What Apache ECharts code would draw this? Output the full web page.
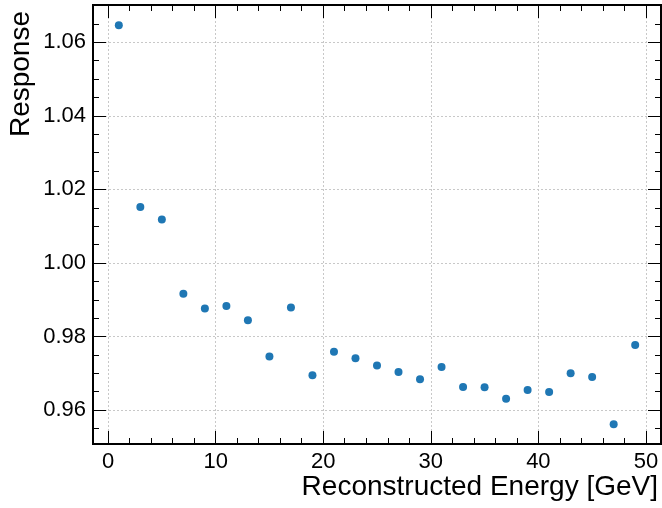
<!DOCTYPE html>
<html>
<head>
<meta charset="utf-8">
<script src="https://cdn.jsdelivr.net/npm/echarts@6/dist/echarts.min.js"></script>
<style>
  html, body { margin: 0; padding: 0; background: #fff; }
  #chart { width: 662px; height: 508px; }
</style>
</head>
<body>
<div id="chart"></div>
<script>
// data
var energy = [1, 3, 5, 7, 9, 11, 13, 15, 17, 19, 21, 23, 25, 27, 29, 31, 33, 35, 37, 39, 41, 43, 45, 47, 49];
var response = [1.0646, 1.0152, 1.0118, 0.9916, 0.9876, 0.9883, 0.9844, 0.9746, 0.9879, 0.9695,
                0.9759, 0.9741, 0.9721, 0.9704, 0.9684, 0.9717, 0.9663, 0.9662, 0.9631, 0.9655,
                0.9649, 0.9700, 0.9690, 0.9562, 0.9777];

var xMajor = [0, 10, 20, 30, 40, 50];
var xMinor = [2, 4, 6, 8, 12, 14, 16, 18, 22, 24, 26, 28, 32, 34, 36, 38, 42, 44, 46, 48];
var yMajor = [0.96, 0.98, 1.00, 1.02, 1.04, 1.06];
var yMinor = [0.955, 0.965, 0.97, 0.975, 0.985, 0.99, 0.995, 1.005, 1.01, 1.015,
              1.025, 1.03, 1.035, 1.045, 1.05, 1.055, 1.065];

var xRange = [-1.4, 51.4];
var yRange = [0.9508, 1.0701];

var FONT = 'Liberation Sans';

// one axis = one set of inward ticks on one side of the frame
function axis(pos, range, ticks, len, withLabels, withGrid, fmt) {
    return {
        type: 'value',
        position: pos,
        min: range[0],
        max: range[1],
        axisLine: {show: false, onZero: false},
        axisTick: {
            show: true, inside: true, length: len, customValues: ticks,
            lineStyle: {color: '#000', width: 1}
        },
        axisLabel: {
            show: withLabels, customValues: ticks, margin: 7,
            color: '#000', fontFamily: FONT, fontSize: 22,
            formatter: fmt
        },
        splitLine: {
            show: withGrid,
            lineStyle: {color: '#c8c8c8', type: [2, 2], width: 1}
        }
    };
}

var fmtX = function (v) { return String(Math.round(v)); };
var fmtY = function (v) { return v.toFixed(2); };

var xMain = axis('bottom', xRange, xMajor, 13, true, true, fmtX);
xMain.name = 'Reconstructed Energy [GeV]';
xMain.nameLocation = 'end';
xMain.nameGap = -3;
xMain.nameTextStyle = {
    fontFamily: FONT, fontSize: 28, color: '#000',
    align: 'right', verticalAlign: 'top', padding: [29, 0, 0, 0]
};

var yMain = axis('left', yRange, yMajor, 13, true, true, fmtY);
yMain.name = 'Response';
yMain.nameLocation = 'end';
yMain.nameRotate = 90;
yMain.nameGap = -6;
yMain.nameTextStyle = {
    fontFamily: FONT, fontSize: 28, color: '#000',
    align: 'right', verticalAlign: 'bottom', padding: [0, 0, 58, 0]
};

var chart = echarts.init(document.getElementById('chart'), null, {renderer: 'canvas'});
chart.setOption({
    animation: false,
    grid: {
        left: 93, right: 1, top: 5, bottom: 64,
        show: true, borderColor: '#000', borderWidth: 2,
        containLabel: false
    },
    xAxis: [
        xMain,
        axis('bottom', xRange, xMinor, 6, false, false),
        axis('top', xRange, xMajor, 13, false, false),
        axis('top', xRange, xMinor, 6, false, false)
    ],
    yAxis: [
        yMain,
        axis('left', yRange, yMinor, 6, false, false),
        axis('right', yRange, yMajor, 13, false, false),
        axis('right', yRange, yMinor, 6, false, false)
    ],
    series: [{
        type: 'scatter',
        symbol: 'circle',
        symbolSize: 8,
        itemStyle: {color: '#1f77b4', opacity: 1},
        data: energy.map(function (e, i) { return [e, response[i]]; })
    }]
});
</script>
</body>
</html>
